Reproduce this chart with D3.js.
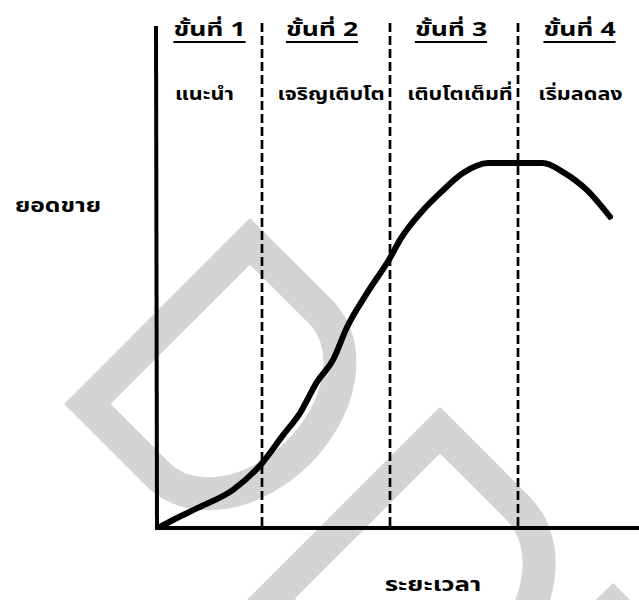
<!DOCTYPE html>
<html><head><meta charset="utf-8">
<script src="https://cdn.jsdelivr.net/npm/d3@7"></script>
<style>
html,body{margin:0;padding:0;background:#fff;}
text{font-family:"Noto Sans Thai","Tahoma","Loma","Garuda","Noto Sans",sans-serif;font-weight:bold;fill:#000;}
</style></head>
<body><svg id="chart" width="639" height="600"></svg>
<script>
// ---- data ----
const stageTitles = ["ขั้นที่ 1","ขั้นที่ 2","ขั้นที่ 3","ขั้นที่ 4"];
const stageNames = ["แนะนำ","เจริญเติบโต","เติบโตเต็มที่","เริ่มลดลง"];
const stageBounds = [0,105,233,361,482];   // time units
const curveTime  = [3,16,43,76,105,126,143,160,176,190,210,233,243,266,283,306,331,386,406,430,453];
const curveSales = [0.2,1.6,4.2,7.6,12.9,18.5,22.9,29.1,33.5,40.0,46.8,53.8,57.4,63.3,66.7,70.7,72.7,72.7,70.9,67.3,62.0];
const yLabel = "ยอดขาย";
const xLabel = "ระยะเวลา";

const svg = d3.select("#chart");
const x = d3.scaleLinear().domain([0,482]).range([157,639]);
const y = d3.scaleLinear().domain([0,100]).range([528,26]);

// watermark
const wm = svg.append("g").attr("fill","none").attr("stroke","#d4d4d4").attr("stroke-width",33).attr("stroke-linejoin","miter");
wm.append("path").attr("transform","translate(250,241.3) rotate(45)").attr("d","M0,0 H100 A83.5,115 0 0 1 100,230 H0 Z");
wm.append("path").attr("transform","translate(440,430.3) rotate(45)").attr("d","M0,400 V0 H110 A90,119 0 0 1 110,238 H0");
wm.append("path").attr("transform","translate(613,606.3) rotate(45)").attr("d","M0,120 V0 H120");

// dashed stage separators
svg.append("g").selectAll("line").data(stageBounds.slice(1,4)).join("line")
  .attr("x1",d=>x(d)).attr("x2",d=>x(d)).attr("y1",23).attr("y2",y(0))
  .attr("stroke","#000").attr("stroke-width",2.7).attr("stroke-dasharray","9,4");

// axes
svg.append("line").attr("x1",x(0)-1).attr("x2",x(0)).attr("y1",y(100)).attr("y2",y(0)+2)
  .attr("stroke","#000").attr("stroke-width",4);
svg.append("line").attr("x1",x(0)-2).attr("x2",x(482)).attr("y1",y(0)).attr("y2",y(0))
  .attr("stroke","#000").attr("stroke-width",4);

// curve
const pts = curveTime.map((t,i)=>[t,curveSales[i]]);
svg.append("path").datum(pts)
  .attr("d",d3.line().x(d=>x(d[0])).y(d=>y(d[1])).curve(d3.curveMonotoneX))
  .attr("fill","none").attr("stroke","#000").attr("stroke-width",6).attr("stroke-linecap","round");

// helper for wide bold text
function wideText(cx, by, size, sx, str, anchor, underline){
  const g = svg.append("g").attr("transform",`translate(${cx},${by}) scale(${sx},1)`);
  const t = g.append("text").attr("text-anchor",anchor).attr("font-size",size).text(str);
  if(underline){
    const b = t.node().getBBox();
    g.append("line").attr("x1",b.x).attr("x2",b.x+b.width).attr("y1",6).attr("y2",6)
      .attr("stroke","#000").attr("stroke-width",1.8);
  }
}
const mids = stageTitles.map((s,i)=>(x(stageBounds[i])+x(stageBounds[i+1]))/2);
stageTitles.forEach((s,i)=>wideText(mids[i]+[0,-4,-3,1][i],36,19,1.4,s,"middle",true));
stageNames.forEach((s,i)=>wideText(mids[i]+[-5,5,6,2][i],100,18,1.2,s,"middle",false));

wideText(15,212,20,1.23,yLabel,"start",false);
wideText(433,591,19,1.36,xLabel,"middle",false);
</script></body></html>
